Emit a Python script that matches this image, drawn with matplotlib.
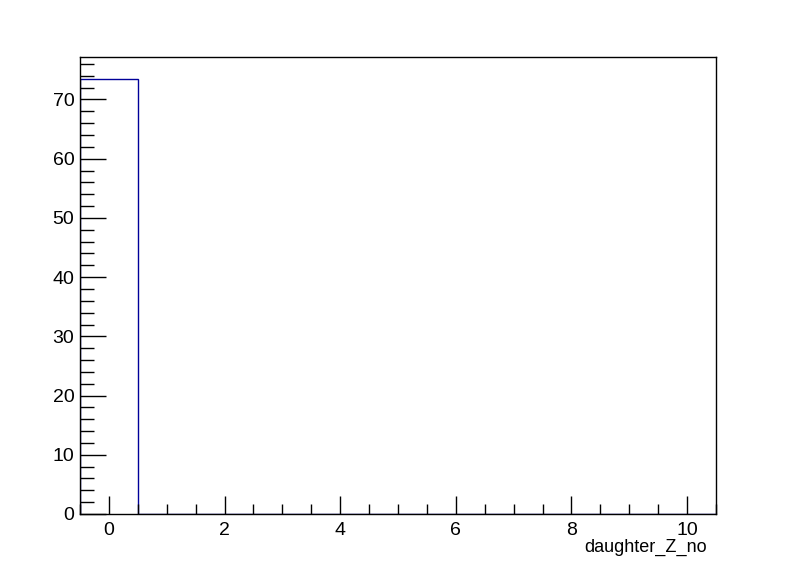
import numpy as np
from matplotlib import pyplot as plt
from matplotlib.ticker import MultipleLocator

# histogram contents (bin centres 0..10, width 1)
binEdges = np.arange(-0.5, 11.5, 1.0)
counts = [73.5, 0, 0, 0, 0, 0, 0, 0, 0, 0, 0]
xTitle = "daughter_Z_no"

plt.rcParams['font.family'] = ['Liberation Sans', 'DejaVu Sans']

fig = plt.figure(figsize=(7.96, 5.72), dpi=100)
ax = fig.add_axes([80 / 796, 1 - 514 / 572, (716 - 80) / 796, (514 - 57) / 572])

ax.stairs(counts, binEdges, color='#000099', linewidth=1)

ax.set_xlim(-0.5, 10.5)
ax.set_ylim(0, max(counts) * 1.05)

ax.xaxis.set_major_locator(MultipleLocator(2))
ax.xaxis.set_minor_locator(MultipleLocator(0.5))
ax.yaxis.set_major_locator(MultipleLocator(10))
ax.yaxis.set_minor_locator(MultipleLocator(2))

ax.tick_params(which='both', direction='in', labelsize=14, width=1, color='black')
ax.tick_params(axis='x', which='major', length=13, pad=6)
ax.tick_params(axis='x', which='minor', length=7)
ax.tick_params(axis='y', which='major', length=19, pad=4)
ax.tick_params(axis='y', which='minor', length=10)

for s in ax.spines.values():
    s.set_linewidth(1)

ax.set_xlabel(xTitle, fontsize=13, loc='right')
ax.xaxis.set_label_coords(1 - 9 / 636, -25 / 457)

plt.savefig('out.png', dpi=100)
